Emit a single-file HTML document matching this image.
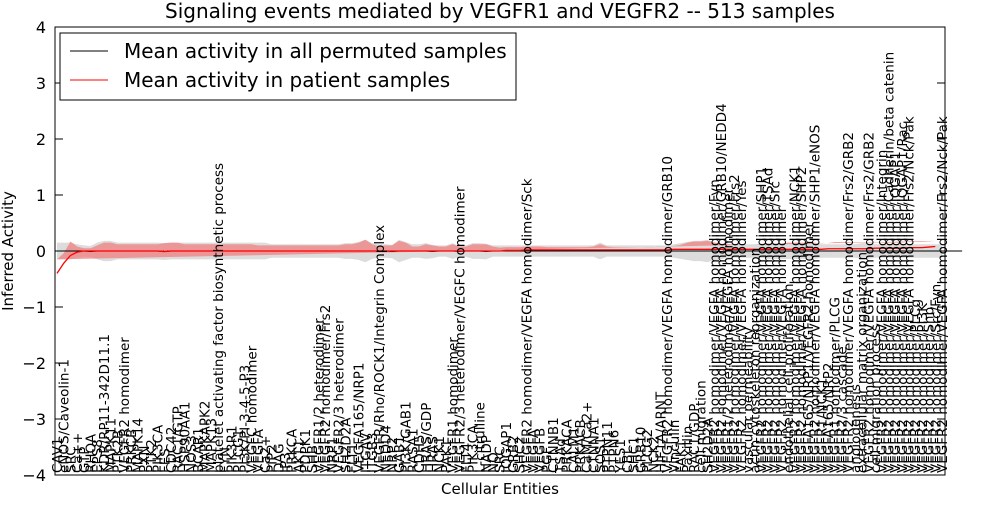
<!DOCTYPE html>
<html><head><meta charset="utf-8"><style>
body{margin:0;background:#fff}
svg{font-family:"DejaVu Sans","Liberation Sans",sans-serif}
</style></head><body>
<svg id="chart" width="1000" height="500" viewBox="0 0 1000 500">
<rect width="1000" height="500" fill="#fff"/>
<text x="500" y="18" text-anchor="middle" font-size="20">Signaling events mediated by VEGFR1 and VEGFR2 -- 513 samples</text>
<text transform="translate(13,251) rotate(-90)" text-anchor="middle" font-size="15">Inferred Activity</text>
<text x="500" y="494" text-anchor="middle" font-size="15">Cellular Entities</text>
<g id="bands"></g><g id="lines"></g><g id="yticks"></g><g id="xlabels"></g>
<rect x="55" y="27" width="890" height="448" fill="none" stroke="#000" stroke-width="1"/>
<g>
<rect x="60" y="33" width="456" height="67" fill="#fff" stroke="#000"/>
<line x1="70" y1="51" x2="108" y2="51" stroke="#000"/>
<text x="124" y="58" font-size="20">Mean activity in all permuted samples</text>
<line x1="70" y1="80" x2="108" y2="80" stroke="#f00"/>
<text x="124" y="87" font-size="20">Mean activity in patient samples</text>
</g>
</svg>
<script>
const labels=["CAV1","eNOS/Caveolin-1","SRC","Ca++","GTP","RHOA","EPS8","KDR/RP11-342D11.1","MAPK11","PTK2B","VEGFR2 homodimer","PRKCB","MAPK14","PXN","PTK2","PIK3CA","FES","CDC42","RAC1/GTP","HSP90AA1","NOS3","BCAR1","MAPKAPK2","MAPK13","platelet activating factor biosynthetic process","FYN","PIK3R1","PLCG1","PI3K/PI-3-4-5-P3","VEGFC homodimer","VEGFA","Ca2+","PIP2","DAG","IP3","PRKCA","AKT1","PDPK1","SHB","VEGFR1/2 heterodimer","VEGFR2 homodimer/Frs2","NRP1","VEGFR2/3 heterodimer","SH2D2A","FLT1","VEGFA165/NRP1","ITGAV","ITGB3","VEGFR/Rho/ROCK1/Integrin Complex","NEDD4","NRP2","GAB1","PI3K/GAB1","RASA1","CDH5","HRAS/GDP","HRAS","NCK1","PAK1","VEGFR1 homodimer","VEGFR2/3 heterodimer/VEGFC homodimer","FLT4","PIK3CA","L-citrulline","NADP","NO","SRC","IQGAP1","GRB2","SHC2","VEGFR2 homodimer/VEGFA homodimer/Sck","VEGFA","VEGFB","PGF","CTNNB1","TSAd","PRKACA","CALM1","PRKACB","CaM/Ca2+","CTNNA1","SOS1","PTPN11","PTPN6","YES1","CBL","SHC1","GRB10","PLCG2","NCK2","HIF1A/ARNT","VEGFR2 homodimer/VEGFA homodimer/GRB10","Vinculin","FAK1","Paxillin","RAC1/GDP","cell migration","SH2D2A","VEGFR2 homodimer/VEGFA homodimer/Fyn","VEGFR2 homodimer/VEGFA homodimer/GRB10/NEDD4","VEGFR1/2 heterodimer/VEGFA homodimer","VEGFR2 homodimer/VEGFA homodimer/Frs2","VEGFR2 homodimer/VEGFA homodimer/Yes","vascular permeability","actin cytoskeleton reorganization","VEGFR2 homodimer/VEGFA homodimer/SHP1","VEGFR2 homodimer/VEGFA homodimer/TSAd","VEGFR2 homodimer/VEGFA homodimer/Src","VEGFR2 homodimer/VEGFA homodimer","endothelial cell proliferation","VEGFR2 homodimer/VEGFA homodimer/NCK1","VEGFR2 homodimer/VEGFA homodimer/SHP2","VEGFA165/NRP1/VEGFR2 homodimer","VEGFR2 homodimer/VEGFA homodimer/SHP1/eNOS","VEGFR1/NCK1","VEGFA165/NRP2","VEGFR1 homodimer/PLCG","VEGFR2/3 cascade","VEGFR2 homodimer/VEGFA homodimer/Frs2/GRB2","angiogenesis","extracellular matrix organization","VEGFR2 homodimer/VEGFA homodimer/Frs2/GRB2","cell migration process","VEGFR2 homodimer/VEGFA homodimer/Integrin","VEGFR2 homodimer/VEGFA homodimer/Cadherin/beta catenin","VEGFR2 homodimer/VEGFA homodimer/IQGAP1","VEGFR2 homodimer/VEGFA homodimer/IQGAP1/Rac","VEGFR2 homodimer/VEGFA homodimer/Frs2/Nck/Pak","VEGFR2 homodimer/PLCg","VEGFR2 homodimer/PI3K","VEGFR2 homodimer/Shb","VEGFR2 homodimer/Src/Fyn","VEGFR2 homodimer/VEGFA homodimer/Frs2/Nck/Pak"];
const patientMean=[-0.4,-0.22,-0.08,-0.02,0,0,0,0,0,0,0,0,0,0,0,0,-0.01,0,0,0,0,0,0,0,0,0,0,0,0,0,0,0,0,0,0,0,0,0,0,0,0,0,0,0,0,0,0,0,0,0,0,0,0,0,0,0,0,0,0,0,0,0,0,0,0,0,0,0.01,0.01,0.01,0.02,0.02,0.02,0.02,0.02,0.02,0.02,0.02,0.02,0.02,0.02,0.02,0.02,0.02,0.02,0.02,0.02,0.02,0.02,0.02,0.02,0.02,0.03,0.03,0.03,0.03,0.03,0.03,0.03,0.03,0.03,0.03,0.03,0.03,0.03,0.03,0.03,0.03,0.03,0.03,0.03,0.03,0.03,0.03,0.03,0.04,0.04,0.04,0.04,0.04,0.04,0.04,0.05,0.05,0.05,0.05,0.05,0.06,0.06,0.06,0.07,0.08];
const patientSpread=[0.25,0.18,0.25,0.1,0.05,0.05,0.1,0.15,0.15,0.12,0.12,0.12,0.12,0.12,0.12,0.12,0.15,0.15,0.15,0.12,0.12,0.12,0.12,0.12,0.12,0.12,0.12,0.12,0.12,0.12,0.1,0.1,0.1,0.1,0.1,0.1,0.1,0.1,0.1,0.1,0.1,0.1,0.1,0.12,0.12,0.15,0.2,0.12,0.08,0.1,0.1,0.18,0.15,0.08,0.08,0.12,0.1,0.08,0.08,0.12,0.08,0.08,0.12,0.12,0.12,0.08,0.06,0.06,0.06,0.06,0.06,0.06,0.06,0.05,0.05,0.05,0.05,0.05,0.05,0.05,0.06,0.1,0.06,0.05,0.05,0.05,0.05,0.05,0.05,0.05,0.06,0.06,0.06,0.08,0.12,0.14,0.14,0.15,0.12,0.1,0.1,0.08,0.08,0.08,0.08,0.1,0.1,0.1,0.1,0.12,0.12,0.12,0.12,0.12,0.1,0.1,0.12,0.12,0.12,0.12,0.12,0.12,0.1,0.1,0.1,0.1,0.1,0.1,0.1,0.1,0.1,0.1,0.1,0.1,0.1,0.1,0.1];
const permutedMean=[0,0,0,0,0,-0.01,0,0,0,0,0,0,0,0,0,0,-0.01,0,0,0,0,0,0,0,0,0,0,0,0,0,0,0,0,0,0,0,0,0,0,0,0,0,0,0,0,0,0,0,0,0,-0.01,0,0,0,0,0,-0.01,0,0,0,-0.01,0,0,0,-0.01,0,0,0,0,0,0,0,0,0,0,0,0,0,0,0,0,0,0,0,0,0,0,0,0,0,0,0,0,0,0,0,0,0,0,-0.01,0,0,0,0,0,0,0,0,0,0,0,0,0,0,0,0,0,0,0,0,0,0,0,0,0,0,0,0,0,0,0,0,0,0,0,0];
const permutedSpread=[0.15,0.15,0.15,0.12,0.1,0.1,0.15,0.18,0.18,0.15,0.15,0.15,0.15,0.15,0.15,0.15,0.15,0.15,0.15,0.15,0.15,0.15,0.15,0.15,0.15,0.15,0.15,0.15,0.15,0.15,0.15,0.15,0.12,0.12,0.12,0.12,0.12,0.12,0.12,0.12,0.12,0.12,0.12,0.14,0.14,0.16,0.2,0.14,0.12,0.12,0.12,0.2,0.16,0.12,0.12,0.14,0.12,0.1,0.1,0.14,0.1,0.1,0.14,0.14,0.14,0.1,0.1,0.1,0.1,0.1,0.1,0.1,0.1,0.1,0.1,0.1,0.1,0.1,0.1,0.1,0.1,0.15,0.1,0.1,0.1,0.1,0.1,0.1,0.1,0.1,0.1,0.1,0.12,0.14,0.16,0.18,0.18,0.2,0.16,0.14,0.12,0.12,0.12,0.12,0.12,0.12,0.14,0.14,0.14,0.14,0.14,0.14,0.14,0.14,0.12,0.12,0.12,0.12,0.12,0.12,0.14,0.14,0.12,0.12,0.12,0.12,0.12,0.12,0.12,0.12,0.12,0.12,0.12,0.12,0.12,0.12];
const yTicks=[-4,-3,-2,-1,0,1,2,3,4];
const NS="http://www.w3.org/2000/svg";
const n=labels.length;
const xs=i=>57+i*(942-57)/(n-1);
const ys=v=>251-v*56;
function mk(tag,attrs,parent){const e=document.createElementNS(NS,tag);for(const k in attrs)e.setAttribute(k,attrs[k]);document.getElementById(parent).appendChild(e);return e;}
function band(mean,spread){let up=[],dn=[];for(let i=0;i<n;i++){up.push(xs(i)+","+ys(mean[i]+spread[i]));dn.unshift(xs(i)+","+ys(mean[i]-spread[i]));}return up.concat(dn).join(" ");}
function line(mean){return mean.map((v,i)=>xs(i)+","+ys(v)).join(" ");}
let g=mk("polygon",{points:band(permutedMean,permutedSpread),fill:"#d3d3d3","fill-opacity":"0.8"},"bands");


let r=mk("polygon",{points:band(patientMean,patientSpread),fill:"#f08080","fill-opacity":"0.75"},"bands");


let z=mk("line",{x1:55,x2:945,y1:ys(0),y2:ys(0),stroke:"#000","stroke-dasharray":"1,3","stroke-width":1},"lines");


let pl=mk("polyline",{points:line(permutedMean),fill:"none",stroke:"#000","stroke-width":1},"lines");


let rl=mk("polyline",{points:line(patientMean),fill:"none",stroke:"#f00","stroke-width":1.3},"lines");


yTicks.forEach(v=>{
 let t=mk("text",{x:46,y:ys(v)+6,"text-anchor":"end","font-size":16},"yticks");t.textContent=(v<0?"\u2212"+(-v):v);
 
 
 let a=mk("line",{x1:55,x2:63,y1:ys(v),y2:ys(v),stroke:"#000"},"yticks");
 
 
 let b=mk("line",{x1:937,x2:945,y1:ys(v),y2:ys(v),stroke:"#000"},"yticks");
 
 
});
labels.forEach((s,i)=>{
 let t=mk("text",{transform:"translate("+(xs(i)+5)+",473) rotate(-90)","font-size":13.5},"xlabels");t.textContent=s;
 
 
});
</script>
</body></html>
